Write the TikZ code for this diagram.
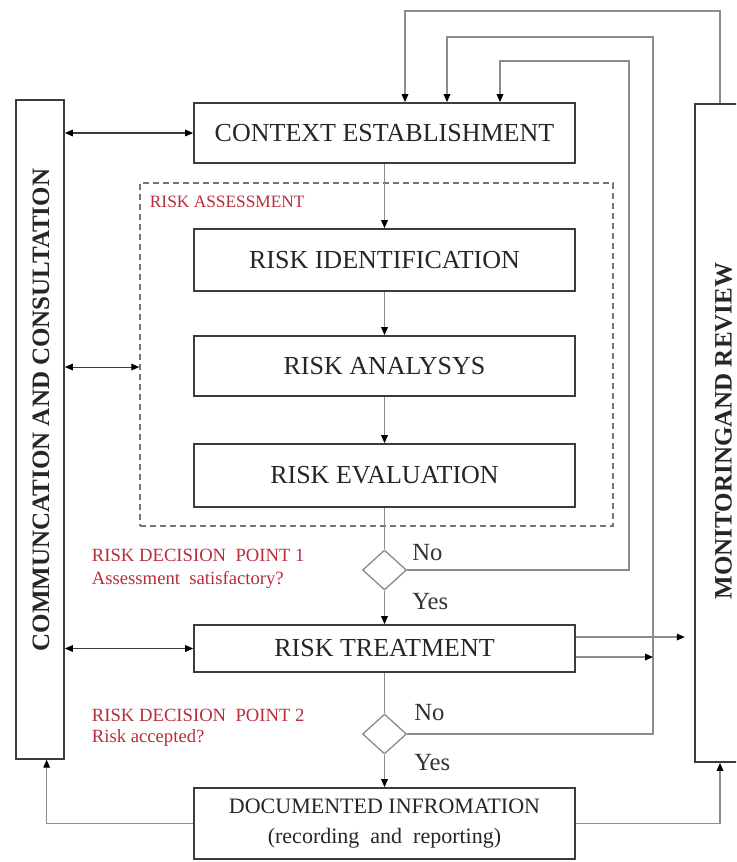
\documentclass[tikz,border=0pt]{standalone}
\usepackage{fontspec}
\setmainfont{Liberation Serif}
\usetikzlibrary{arrows.meta,shapes.geometric}
\definecolor{riskred}{RGB}{185,45,60}
\definecolor{linegray}{RGB}{140,140,140}
\definecolor{boxgray}{RGB}{60,60,60}
\begin{document}
\begin{tikzpicture}[x=0.75pt,y=-0.75pt,
  arr/.tip={Triangle[length=6pt,width=5pt,color=black]},
  flow/.style={draw=linegray,line width=0.9pt,-arr},
  link/.style={draw=linegray,line width=0.9pt},
  biflow/.style={draw=boxgray,line width=0.8pt,arr-arr},
  stepbox/.style={draw=boxgray,line width=1.3pt,fill=white,minimum width=285.75pt,
    inner sep=2pt,text=black!85,font=\fontsize{19.5}{23}\selectfont},
  bar/.style={draw=boxgray,line width=1.3pt,inner sep=0pt},
  bartext/.style={text=black!85,font=\fontsize{18.75}{22}\selectfont\bfseries},
  assessbox/.style={draw=boxgray!70,dashed,dash pattern=on 4.5pt off 3pt,line width=1pt,
    minimum width=354.75pt,minimum height=257.25pt,inner sep=0pt},
  decision/.style={diamond,draw=linegray,line width=1pt,fill=white,
    minimum width=33pt,minimum height=30pt,inner sep=0pt},
  redlabel/.style={anchor=west,inner sep=2pt,text=riskred,font=\fontsize{14}{16}\selectfont},
  answer/.style={anchor=west,inner sep=0pt,text=black!80,font=\fontsize{18.5}{21}\selectfont}]
\clip (0,0) rectangle (736,862);
\fill[white] (0,0) rectangle (736,862);

\node[bar,minimum width=36pt,minimum height=494pt] (comm) at (40,429.5) {};
\node[bartext,rotate=90] (commtext) at (41,410) {COMMUNCATION AND CONSULTATION};
\node[bar,minimum width=42.75pt,minimum height=493.5pt] (mon) at (723.5,433) {};
\node[bartext,rotate=90] (montext) at (723.5,431) {MONITORINGAND REVIEW};

\node[assessbox] (assess) at (376.5,354.5) {};
\node[redlabel,font=\fontsize{13}{15}\selectfont] (assesstext) at (147,202) {RISK ASSESSMENT};

\node[stepbox,minimum height=45pt] (ctx) at (384.5,133) {CONTEXT ESTABLISHMENT};
\node[stepbox,minimum height=46.5pt] (ri) at (384.5,260) {RISK IDENTIFICATION};
\node[stepbox,minimum height=45pt] (ra) at (384.5,366) {RISK ANALYSYS};
\node[stepbox,minimum height=47.25pt] (re) at (384.5,475.5) {RISK EVALUATION};
\node[decision] (d1) at (384.5,570) {};
\node[stepbox,minimum height=35.25pt] (rt) at (384.5,648.5) {RISK TREATMENT};
\node[decision] (d2) at (384.5,734) {};
\node[stepbox,minimum height=53.25pt,align=center,font=\fontsize{16.5}{22.5}\selectfont] (doc)
  at (384.5,823.5) {DOCUMENTED INFROMATION\\(recording~~and~~reporting)};

\node[answer] (no1) at (412,553) {No};
\node[answer] (yes1) at (412,602) {Yes};
\node[answer] (no2) at (414,713) {No};
\node[answer] (yes2) at (414,763) {Yes};
\node[redlabel] (dp1) at (89,555) {RISK DECISION~~POINT 1};
\node[redlabel] (dq1) at (89,580) {Assessment~~satisfactory?};
\node[redlabel] (dp2) at (89,715) {RISK DECISION~~POINT 2};
\node[redlabel] (dq2) at (89,738) {Risk accepted?};

\coordinate (fbA) at (629,61);
\coordinate (fbB) at (653,37);
\coordinate (fbC) at (720,11);
\coordinate (inA) at (500,61);
\coordinate (inB) at (447,37);
\coordinate (inC) at (405,11);

\draw[flow] (ctx) -- (ri);
\draw[flow] (ri) -- (ra);
\draw[flow] (ra) -- (re);
\draw[link] (re) -- (d1);
\draw[flow] (d1) -- (rt);
\draw[link] (rt) -- (d2);
\draw[flow] (d2) -- (doc);
\draw[flow] (d1.east) -| (fbA) -| (ctx.north -| inA);
\draw[flow] (d2.east) -| (fbB) -| (ctx.north -| inB);
\draw[flow] (mon.north -| fbC) -- (fbC) -| (ctx.north -| inC);
\draw[flow,shorten >=7pt] ([yshift=8.6pt]rt.east) -- ([yshift=8.6pt]rt.east -| mon.west);
\draw[flow] ([yshift=-6.4pt]rt.east) -- ([yshift=-6.4pt]rt.east -| fbB);
\draw[biflow] (comm.east |- ctx.west) -- (ctx.west);
\draw[biflow] ([yshift=-9.4pt]comm.east |- assess.west) -- ([yshift=-9.4pt]assess.west);
\draw[biflow] (comm.east |- rt.west) -- (rt.west);
\draw[flow] (doc.west) -| ([xshift=5pt]comm.south);
\draw[flow] (doc.east) -| (mon.south -| fbC);
\end{tikzpicture}
\end{document}
